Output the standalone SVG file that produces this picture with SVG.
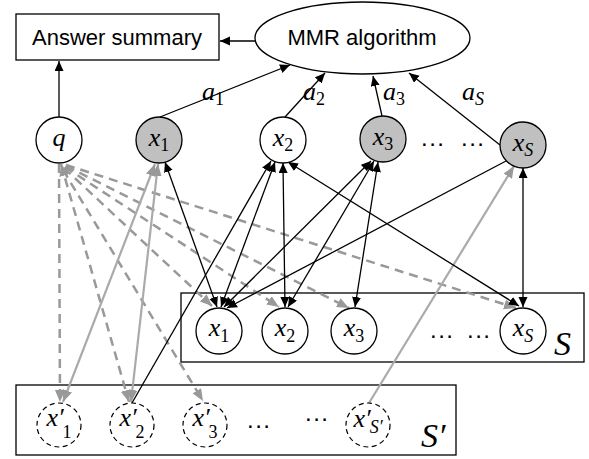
<svg xmlns="http://www.w3.org/2000/svg" width="589" height="459" viewBox="0 0 589 459">
<defs>
<style>
.bg{fill:#fff}
.k{stroke:#000;stroke-width:1.3;fill:none}
.gs{stroke:#aaa;stroke-width:2.2;fill:none}
.gd{stroke:#999;stroke-width:2.5;fill:none;stroke-dasharray:9 6}
.nw{fill:#fff;stroke:#000;stroke-width:1.3}
.ng{fill:#c0c0c0;stroke:#000;stroke-width:1.3}
.nd{fill:#fff;stroke:#000;stroke-width:1.2;stroke-dasharray:5 3.5}
.box{fill:none;stroke:#000;stroke-width:1.3}
.m{font-family:"Liberation Serif","DejaVu Serif",serif;font-style:italic;font-size:26px;fill:#000}
.sub{font-size:18px;font-style:normal}
.subi{font-size:18px;font-style:italic}
.big{font-family:"Liberation Serif","DejaVu Serif",serif;font-style:italic;font-size:34px;fill:#000}
.lbl{font-family:"Liberation Sans",Arial,sans-serif;font-size:22px;fill:#000}
.dots{font-family:"Liberation Sans",Arial,sans-serif;font-size:24px;letter-spacing:1.5px;fill:#000}
</style>
<marker id="ab" markerWidth="11" markerHeight="10" refX="10" refY="4.5" orient="auto-start-reverse" markerUnits="userSpaceOnUse"><path d="M0,0 L10,4.5 L0,9 z" fill="#000"/></marker>
<marker id="ag" markerWidth="13" markerHeight="11" refX="12" refY="5" orient="auto-start-reverse" markerUnits="userSpaceOnUse"><path d="M0,0 L12,5 L0,10 z" fill="#999"/></marker>
</defs>
<rect class="bg" x="0" y="0" width="589" height="459"/>

<g id="boxes">
<rect id="S-box" class="box" x="181" y="293" width="403" height="69"/>
<rect id="Sp-box" class="box" x="16" y="385" width="440" height="70"/>
</g>

<g id="connectors">
<path class="k" d="M255,41 L220,41" marker-end="url(#ab)"/>
<path class="k" d="M59,117 L59,61" marker-end="url(#ab)"/>
<path class="k" d="M160,117 L290,65" marker-end="url(#ab)"/>
<path class="k" d="M285,117 L325,73" marker-end="url(#ab)"/>
<path class="k" d="M382,116 L373,76" marker-end="url(#ab)"/>
<path class="k" d="M500,145 L409,73" marker-end="url(#ab)"/>

<path class="gd" d="M59,164 L60,402" marker-end="url(#ag)"/>
<path class="gd" d="M61,164 L129,402" marker-start="url(#ag)" marker-end="url(#ag)"/>
<path class="gd" d="M63,170 L203,401" marker-end="url(#ag)"/>
<path class="gd" d="M64,168 L212,306" marker-end="url(#ag)"/>
<path class="gd" d="M65,167 L279,307" marker-end="url(#ag)"/>
<path class="gd" d="M66,166 L349,308" marker-end="url(#ag)"/>
<path class="gd" d="M66,165 L516,308" marker-end="url(#ag)"/>

<path class="gs" d="M155,164 L63,402" marker-start="url(#ag)" marker-end="url(#ag)"/>
<path class="gs" d="M158,164 L131,402" marker-start="url(#ag)" marker-end="url(#ag)"/>
<path class="gs" d="M369,403 L514,166" marker-end="url(#ag)"/>

<path class="k" d="M165,162 L217,307" marker-start="url(#ab)" marker-end="url(#ab)"/>
<path class="k" d="M275,162 L221,307" marker-start="url(#ab)" marker-end="url(#ab)"/>
<path class="k" d="M283,163 L285,307" marker-start="url(#ab)" marker-end="url(#ab)"/>
<path class="k" d="M132,403 L271,161" marker-end="url(#ab)"/>
<path class="k" d="M288,162 L519,306" marker-start="url(#ab)" marker-end="url(#ab)"/>
<path class="k" d="M371,161 L224,307" marker-start="url(#ab)" marker-end="url(#ab)"/>
<path class="k" d="M374,161 L288,307" marker-start="url(#ab)" marker-end="url(#ab)"/>
<path class="k" d="M378,162 L355,307" marker-start="url(#ab)" marker-end="url(#ab)"/>
<path class="k" d="M506,161 L227,308" marker-end="url(#ab)"/>
<path class="k" d="M523,168 L523,307" marker-start="url(#ab)" marker-end="url(#ab)"/>
</g>

<g id="labels">
<text class="m" x="202" y="100">a<tspan class="sub" dy="5">1</tspan></text>
<text class="m" x="303" y="100">a<tspan class="sub" dy="5">2</tspan></text>
<text class="m" x="383" y="100">a<tspan class="sub" dy="5">3</tspan></text>
<text class="m" x="462" y="100">a<tspan class="subi" dy="5">S</tspan></text>
</g>

<g id="answer-summary">
<rect class="nw" x="16" y="14" width="203" height="46"/>
<text class="lbl" x="117" y="45" text-anchor="middle">Answer summary</text>
</g>
<g id="mmr">
<ellipse class="nw" cx="362.5" cy="38" rx="107.5" ry="36"/>
<text class="lbl" x="362" y="45" text-anchor="middle">MMR algorithm</text>
</g>

<g id="q"><circle class="nw" cx="59" cy="140" r="23"/><text class="m" x="59" y="146" text-anchor="middle">q</text></g>
<g id="x1"><circle class="ng" cx="159" cy="140" r="23"/><text class="m" x="159" y="146" text-anchor="middle">x<tspan class="sub" dy="5">1</tspan></text></g>
<g id="x2"><circle class="nw" cx="283" cy="140" r="23"/><text class="m" x="283" y="146" text-anchor="middle">x<tspan class="sub" dy="5">2</tspan></text></g>
<g id="x3"><circle class="ng" cx="383" cy="139" r="23"/><text class="m" x="383" y="145" text-anchor="middle">x<tspan class="sub" dy="5">3</tspan></text></g>
<g id="top-dots"><text class="dots" x="421" y="146">...</text><text class="dots" x="461" y="146">...</text></g>
<g id="xS"><circle class="ng" cx="523" cy="145" r="23"/><text class="m" x="523" y="151" text-anchor="middle">x<tspan class="subi" dy="5">S</tspan></text></g>

<g id="s-x1"><circle class="nw" cx="219" cy="331" r="23"/><text class="m" x="219" y="336" text-anchor="middle">x<tspan class="sub" dy="6">1</tspan></text></g>
<g id="s-x2"><circle class="nw" cx="285" cy="331" r="23"/><text class="m" x="285" y="336" text-anchor="middle">x<tspan class="sub" dy="6">2</tspan></text></g>
<g id="s-x3"><circle class="nw" cx="354" cy="331" r="23"/><text class="m" x="354" y="336" text-anchor="middle">x<tspan class="sub" dy="6">3</tspan></text></g>
<g id="s-dots"><text class="dots" x="430" y="338">...</text><text class="dots" x="467" y="338">...</text></g>
<g id="s-xS"><circle class="nw" cx="523" cy="331" r="23"/><text class="m" x="523" y="336" text-anchor="middle">x<tspan class="subi" dy="6">S</tspan></text></g>
<text class="big" x="554" y="355">S</text>

<g id="p-x1"><circle class="nd" cx="59" cy="425" r="22"/><text class="m" x="59" y="426" text-anchor="middle">x′<tspan class="sub" dx="-1" dy="12">1</tspan></text></g>
<g id="p-x2"><circle class="nd" cx="132" cy="425" r="22"/><text class="m" x="132" y="426" text-anchor="middle">x′<tspan class="sub" dx="-1" dy="12">2</tspan></text></g>
<g id="p-x3"><circle class="nd" cx="205" cy="425" r="22"/><text class="m" x="205" y="426" text-anchor="middle">x′<tspan class="sub" dx="-1" dy="12">3</tspan></text></g>
<g id="p-dots"><text class="dots" x="247" y="428">...</text><text class="dots" x="305" y="421">...</text></g>
<g id="p-xS"><circle class="nd" cx="368" cy="425" r="22"/><text class="m" x="368" y="427" text-anchor="middle">x′<tspan class="subi" dx="-1" dy="6">S′</tspan></text></g>
<text class="big" x="421" y="447">S′</text>
</svg>
